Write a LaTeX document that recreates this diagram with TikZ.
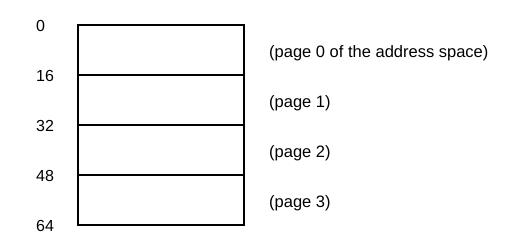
\documentclass[tikz,border=0pt]{standalone}
\usepackage{fontspec}
\setmainfont{Liberation Sans}
\begin{document}
\begin{tikzpicture}[x=1pt,y=-1pt,
  pagebox/.style={draw,line width=1.2pt,minimum width=166pt,minimum height=50pt,inner sep=0pt,outer sep=0pt,anchor=north west},
  addr/.style={anchor=base west,inner sep=0pt,font=\fontsize{16}{18}\selectfont},
  note/.style={anchor=base west,inner sep=0pt,font=\fontsize{16.5}{18}\selectfont}]
  \useasboundingbox (0,0) rectangle (508,248);
  % the four pages of the address space
  \node[pagebox] (p0) at (78,25) {};
  \node[pagebox] (p1) at (78,75) {};
  \node[pagebox] (p2) at (78,125) {};
  \node[pagebox] (p3) at (78,175) {};
  % byte offsets along the left side
  \node[addr] (a0) at (36,32) {0};
  \node[addr] (a16) at (36,82) {16};
  \node[addr] (a32) at (36,132) {32};
  \node[addr] (a48) at (36,182) {48};
  \node[addr] (a64) at (36,231.5) {64};
  % page descriptions
  \node[note] (n0) at (269,57.5) {(page 0 of the address space)};
  \node[note] (n1) at (269,107.5) {(page 1)};
  \node[note] (n2) at (269,157.5) {(page 2)};
  \node[note] (n3) at (269,207.5) {(page 3)};
\end{tikzpicture}
\end{document}
